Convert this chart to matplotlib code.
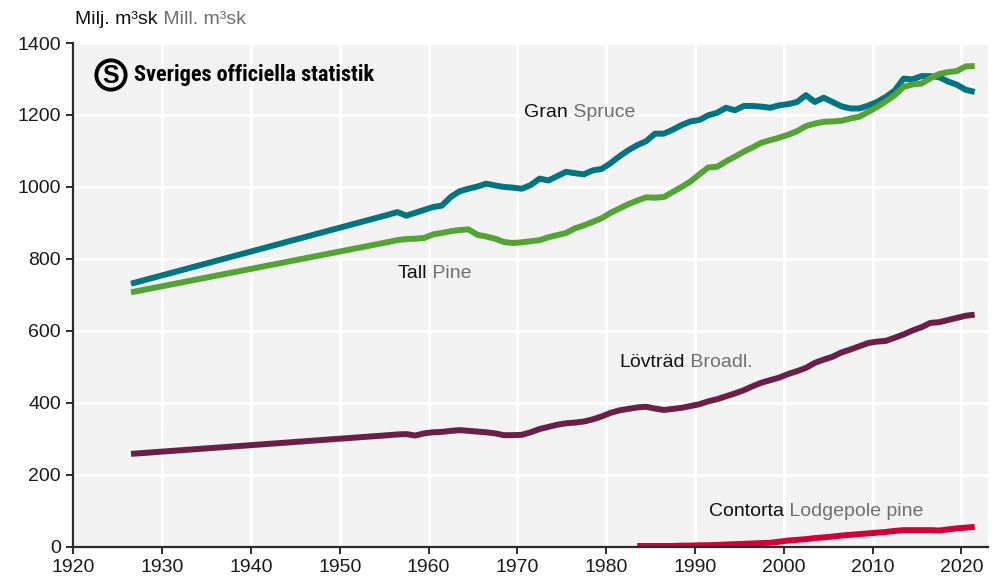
import matplotlib
matplotlib.use("Agg")
import matplotlib.pyplot as plt
from matplotlib.patches import Circle
import numpy as np

plt.rcParams['font.family'] = ['Liberation Sans', 'DejaVu Sans']

# ---------------- data (Milj. m3sk, 5-year moving averages) ----------------
years_main = [1926] + list(range(1955, 2022))

gran = [731,
        923, 930, 920, 928, 936, 944, 948, 972, 988, 995,
        1001, 1009, 1004, 1000, 998, 995, 1005, 1023, 1018, 1030,
        1042, 1038, 1035, 1046, 1050, 1066, 1085, 1102, 1116, 1127,
        1148, 1148, 1159, 1172, 1182, 1186, 1199, 1206, 1220, 1213,
        1225, 1225, 1223, 1220, 1227, 1230, 1236, 1255, 1236, 1248,
        1236, 1224, 1218, 1218, 1226, 1236, 1250, 1268, 1301, 1299,
        1308, 1308, 1305, 1293, 1284, 1270, 1264]

tall = [707,
        847, 852, 855, 856, 858, 868, 872, 877, 880, 882,
        867, 862, 856, 847, 844, 846, 849, 852, 860, 866,
        872, 885, 893, 903, 913, 928, 940, 952, 962, 971,
        970, 972, 986, 1000, 1015, 1035, 1054, 1056, 1071, 1084,
        1098, 1110, 1123, 1130, 1137, 1145, 1155, 1169, 1176, 1181,
        1182, 1184, 1190, 1195, 1208, 1222, 1238, 1255, 1278, 1285,
        1287, 1302, 1314, 1319, 1322, 1335, 1336]

lovtrad = [258,
           310, 312, 313, 309, 315, 318, 319, 322, 324, 322,
           320, 318, 315, 310, 310, 311, 318, 327, 333, 339,
           343, 345, 348, 354, 362, 372, 379, 383, 387, 389,
           384, 380, 383, 386, 391, 396, 404, 410, 418, 426,
           435, 446, 456, 463, 470, 480, 488, 497, 511, 520,
           528, 540, 548, 557, 566, 570, 572, 581, 590, 601,
           610, 622, 624, 630, 636, 642, 645]

years_contorta = list(range(1983, 2022))
contorta = [2, 2, 2, 2, 2, 3, 3, 4, 4, 5,
            6, 7, 8, 9, 10, 11, 14, 17, 19, 21,
            24, 26, 28, 31, 33, 35, 37, 39, 41, 44,
            46, 46, 46, 46, 45, 48, 51, 53, 55]

series_names_sv = ["Gran", "Tall", "Lövträd", "Contorta"]
series_names_en = ["Spruce", "Pine", "Broadl.", "Lodgepole pine"]

x_ticks = list(range(1920, 2021, 10))
y_ticks = list(range(0, 1401, 200))

# ---------------- style ----------------
C_GRAN = "#00747f"
C_TALL = "#55a334"
C_LOV = "#6a1f47"
C_CONT = "#d20038"
GRAY = "#6f6f6f"
DARK = "#2b2b2b"
FS = 14

fig = plt.figure(figsize=(9.92, 5.81), dpi=100)
ax = fig.add_axes([73.3 / 992, 1 - 546.7 / 581, (988 - 73.3) / 992, (546.7 - 43) / 581])
ax.set_facecolor("#f2f2f2")

MID = 0.5  # values plotted at mid-year
lw = 4.3
ax.plot(np.array(years_main) + MID, gran, color=C_GRAN, lw=lw, solid_capstyle='butt', zorder=3)
ax.plot(np.array(years_main) + MID, tall, color=C_TALL, lw=lw, solid_capstyle='butt', zorder=3)
ax.plot(np.array(years_main) + MID, lovtrad, color=C_LOV, lw=lw, solid_capstyle='butt', zorder=3)
ax.plot(np.array(years_contorta) + MID, contorta, color=C_CONT, lw=lw, solid_capstyle='butt', zorder=3)

ax.set_xlim(1920, 2023)
ax.set_ylim(0, 1400)
ax.set_xticks(x_ticks)
ax.set_yticks(y_ticks)
ax.grid(True, color="white", lw=2.2, zorder=1)
ax.set_axisbelow(True)
for s in ["top", "right"]:
    ax.spines[s].set_visible(False)
for s in ["left", "bottom"]:
    ax.spines[s].set_color(DARK)
    ax.spines[s].set_linewidth(1.6)
    ax.spines[s].set_zorder(4)
ax.tick_params(axis="both", direction="out", length=5, width=1.4, color=DARK,
               labelsize=FS, labelcolor="#1a1a1a", pad=4)


def two_tone(x, y, sv, en):
    t = ax.text(x, y, sv, fontsize=FS, color="#111111", va="center", ha="left", zorder=5)
    ax.annotate(" " + en, xy=(1, 0), xycoords=t, fontsize=FS, color=GRAY,
                va="bottom", ha="left", zorder=5)
    return t


two_tone(1970.8, 1207, series_names_sv[0], series_names_en[0])
two_tone(1956.5, 760, series_names_sv[1], series_names_en[1])
two_tone(1981.5, 513, series_names_sv[2], series_names_en[2])
two_tone(1991.6, 99, series_names_sv[3], series_names_en[3])

# unit label above the axis
t_u = fig.text(75 / 992, 1 - 19 / 581, "Milj. m³sk", fontsize=FS, color="#111111",
               va="center", ha="left")
ax.annotate(" Mill. m³sk", xy=(1, 0), xycoords=t_u, fontsize=FS, color=GRAY,
            va="bottom", ha="left", annotation_clip=False)

# SOS logo
lax = fig.add_axes([94 / 992, 1 - 92 / 581, 34 / 992, 34 / 581])
lax.set_xlim(-1, 1)
lax.set_ylim(-1, 1)
lax.set_aspect("equal")
lax.axis("off")
lax.add_patch(Circle((0, 0), 0.86, facecolor="none", edgecolor="black", lw=2.8))
lax.text(0, -0.04, "S", fontsize=18, fontweight="bold", color="black",
         ha="center", va="center", family=["Liberation Sans", "DejaVu Sans"])

fig.text(134 / 992, 1 - 75 / 581, "Sveriges officiella statistik", fontsize=16,
         fontweight="bold", color="black", va="center", ha="left",
         family=["Liberation Sans Narrow", "Roboto Condensed", "Liberation Sans"])

fig.savefig("out.png", dpi=100)
